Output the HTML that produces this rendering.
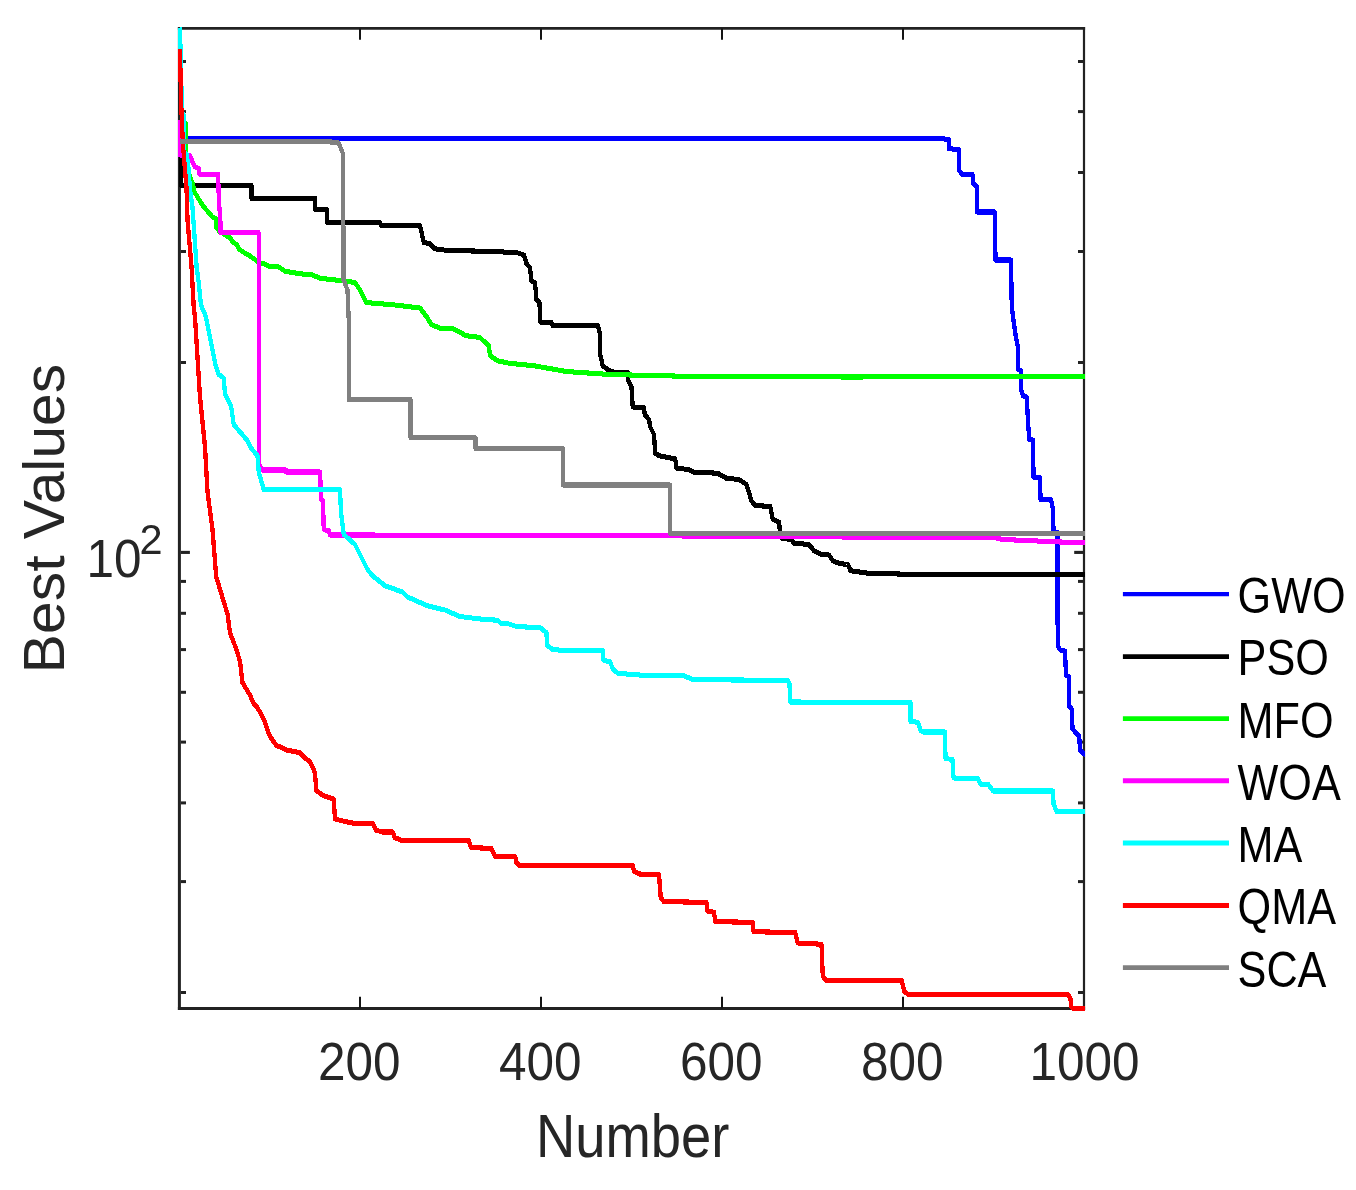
<!DOCTYPE html>
<html lang="en">
<head>
<meta charset="utf-8">
<title>Best Values vs Number</title>
<style>
html,body{margin:0;padding:0;background:#fff;}
body{width:1356px;height:1190px;overflow:hidden;}
svg{display:block;}
text{font-family:"Liberation Sans",sans-serif;}
</style>
</head>
<body>
<svg width="1356" height="1190" viewBox="0 0 1356 1190">
<rect x="0" y="0" width="1356" height="1190" fill="#ffffff"/>
<defs><clipPath id="plotclip"><rect x="177.9" y="27.0" width="907.2" height="984"/></clipPath></defs>

<g stroke="#222222" fill="none" shape-rendering="auto">
<line x1="177.9" y1="28.40" x2="1085.1" y2="28.40" stroke-width="2.8"/>
<line x1="177.9" y1="1008.50" x2="1085.1" y2="1008.50" stroke-width="2.8"/>
<line x1="179.40" y1="27" x2="179.40" y2="1009.9" stroke-width="3.0"/>
<line x1="1084.00" y1="27" x2="1084.00" y2="1009.9" stroke-width="2.2"/>
<line x1="360.0" y1="1008.5" x2="360.0" y2="996.8" stroke-width="2" stroke="#141414"/>
<line x1="360.0" y1="28.4" x2="360.0" y2="39.8" stroke-width="2" stroke="#141414"/>
<line x1="541.0" y1="1008.5" x2="541.0" y2="996.8" stroke-width="2" stroke="#141414"/>
<line x1="541.0" y1="28.4" x2="541.0" y2="39.8" stroke-width="2" stroke="#141414"/>
<line x1="722.0" y1="1008.5" x2="722.0" y2="996.8" stroke-width="2" stroke="#141414"/>
<line x1="722.0" y1="28.4" x2="722.0" y2="39.8" stroke-width="2" stroke="#141414"/>
<line x1="903.0" y1="1008.5" x2="903.0" y2="996.8" stroke-width="2" stroke="#141414"/>
<line x1="903.0" y1="28.4" x2="903.0" y2="39.8" stroke-width="2" stroke="#141414"/>
<line x1="180.9" y1="61.5" x2="186.0" y2="61.5" stroke-width="3.0"/>
<line x1="1083.0" y1="61.5" x2="1078.0" y2="61.5" stroke-width="3.0"/>
<line x1="180.9" y1="111.6" x2="186.0" y2="111.6" stroke-width="3.0"/>
<line x1="1083.0" y1="111.6" x2="1078.0" y2="111.6" stroke-width="3.0"/>
<line x1="180.9" y1="172.5" x2="186.0" y2="172.5" stroke-width="3.0"/>
<line x1="1083.0" y1="172.5" x2="1078.0" y2="172.5" stroke-width="3.0"/>
<line x1="180.9" y1="251.5" x2="186.0" y2="251.5" stroke-width="3.0"/>
<line x1="1083.0" y1="251.5" x2="1078.0" y2="251.5" stroke-width="3.0"/>
<line x1="180.9" y1="362.5" x2="186.0" y2="362.5" stroke-width="3.0"/>
<line x1="1083.0" y1="362.5" x2="1078.0" y2="362.5" stroke-width="3.0"/>
<line x1="180.9" y1="581.4" x2="186.0" y2="581.4" stroke-width="3.0"/>
<line x1="1083.0" y1="581.4" x2="1078.0" y2="581.4" stroke-width="3.0"/>
<line x1="180.9" y1="613.3" x2="186.0" y2="613.3" stroke-width="3.0"/>
<line x1="1083.0" y1="613.3" x2="1078.0" y2="613.3" stroke-width="3.0"/>
<line x1="180.9" y1="649.6" x2="186.0" y2="649.6" stroke-width="3.0"/>
<line x1="1083.0" y1="649.6" x2="1078.0" y2="649.6" stroke-width="3.0"/>
<line x1="180.9" y1="692.3" x2="186.0" y2="692.3" stroke-width="3.0"/>
<line x1="1083.0" y1="692.3" x2="1078.0" y2="692.3" stroke-width="3.0"/>
<line x1="180.9" y1="742.1" x2="186.0" y2="742.1" stroke-width="3.0"/>
<line x1="1083.0" y1="742.1" x2="1078.0" y2="742.1" stroke-width="3.0"/>
<line x1="180.9" y1="802.9" x2="186.0" y2="802.9" stroke-width="3.0"/>
<line x1="1083.0" y1="802.9" x2="1078.0" y2="802.9" stroke-width="3.0"/>
<line x1="180.9" y1="881.6" x2="186.0" y2="881.6" stroke-width="3.0"/>
<line x1="1083.0" y1="881.6" x2="1078.0" y2="881.6" stroke-width="3.0"/>
<line x1="180.9" y1="992.5" x2="186.0" y2="992.5" stroke-width="3.0"/>
<line x1="1083.0" y1="992.5" x2="1078.0" y2="992.5" stroke-width="3.0"/>
<line x1="180.9" y1="552.4" x2="189.9" y2="552.4" stroke-width="3.1"/>
<line x1="1083" y1="552.4" x2="1074.2" y2="552.4" stroke-width="3.1"/>
</g>
<g clip-path="url(#plotclip)"><g transform="scale(1,1.180)" fill="none" stroke-width="4.30" stroke-linejoin="round" stroke-linecap="butt" shape-rendering="crispEdges">
<polyline stroke="#0000ff" points="184.00,117.46 940.50,117.46 949.00,118.22 949.00,126.06 959.00,126.69 959.00,144.07 961.75,147.67 972.50,147.67 973.00,155.72 976.75,157.84 976.75,179.66 994.75,179.66 995.50,220.34 1011.00,220.34 1011.75,258.47 1013.00,268.64 1015.50,283.47 1018.00,294.07 1018.00,313.14 1021.00,314.19 1021.00,330.08 1023.00,335.38 1026.75,336.44 1028.00,357.63 1029.25,372.46 1033.00,372.88 1033.50,404.24 1040.00,404.66 1040.50,423.31 1051.00,423.31 1053.00,431.78 1053.50,450.85 1057.50,451.27 1057.50,520.34 1058.00,547.88 1060.50,551.06 1065.00,551.69 1066.00,572.25 1068.75,573.31 1069.25,598.73 1071.75,600.85 1072.50,617.80 1076.00,620.97 1079.25,624.15 1080.00,635.81 1084.25,638.98 1086.00,639.83"/>
<polyline stroke="#000000" points="180.80,118.64 181.00,157.12 251.50,157.12 251.50,168.22 315.10,168.22 315.10,177.63 326.90,177.63 326.90,188.39 380.00,188.39 381.00,191.10 420.00,191.10 423.75,205.51 430.00,206.57 435.00,210.81 447.50,212.29 497.50,213.14 509.00,213.98 516.50,213.98 524.00,216.10 526.50,223.52 530.00,226.69 531.50,238.35 535.00,239.41 536.50,254.24 539.50,256.36 540.25,272.88 551.50,273.31 552.75,276.06 597.75,276.06 600.25,283.47 600.25,300.42 602.75,309.96 607.75,313.14 612.75,315.25 627.75,315.68 627.75,321.61 631.50,327.97 632.75,344.92 644.00,345.34 644.75,351.27 649.00,355.51 650.25,361.86 654.00,368.22 655.25,384.11 659.00,386.23 675.25,388.98 676.50,396.82 689.00,397.88 692.75,400.00 717.75,401.06 726.50,405.30 739.00,406.36 746.50,410.59 751.50,424.36 755.25,428.60 770.25,429.03 772.75,440.25 779.00,442.37 780.25,452.97 781.50,456.14 791.50,457.20 794.00,460.38 809.00,461.44 814.00,466.74 820.25,469.49 829.00,470.34 832.75,475.21 839.00,477.33 846.50,478.39 848.00,478.39 850.50,483.69 868.00,485.81 918.00,486.86 1086.00,486.86"/>
<polyline stroke="#00ff00" points="180.00,50.85 181.50,84.75 182.50,100.00 185.80,105.08 185.80,128.81 186.80,139.83 190.00,150.00 193.00,155.93 194.50,162.71 197.50,166.95 200.00,170.34 203.00,174.58 206.50,177.97 210.00,181.36 213.00,184.32 216.20,185.17 216.20,192.37 219.00,195.76 226.00,199.58 230.00,201.69 233.00,205.08 237.00,207.63 239.50,211.44 244.00,213.98 250.00,216.95 255.00,219.92 259.00,222.88 265.00,223.73 269.00,225.85 277.50,225.64 285.00,229.87 300.00,231.99 312.50,233.05 320.00,235.81 340.00,237.71 355.00,239.41 360.00,245.76 366.00,256.36 395.00,258.47 420.00,261.02 427.50,269.49 431.25,275.00 440.00,278.18 453.75,278.81 466.25,284.53 480.00,286.02 488.75,293.01 490.00,301.48 497.50,305.72 509.00,307.84 534.00,309.96 566.50,314.83 609.00,317.37 684.00,318.86 848.00,319.49 1086.00,319.07"/>
<polyline stroke="#ff00ff" points="179.90,101.69 179.90,131.36 190.00,131.78 191.50,134.75 193.00,138.14 195.00,141.53 199.00,143.22 199.50,147.71 218.00,147.71 218.20,152.54 219.00,171.19 220.60,189.83 220.60,197.12 258.50,197.12 259.25,203.39 259.25,393.64 262.50,398.31 286.25,398.31 286.25,400.00 320.00,400.00 321.25,423.31 323.00,424.36 323.75,448.73 328.75,449.79 330.00,453.39 616.00,453.64 714.00,454.49 848.00,455.08 991.75,455.08 1003.00,457.20 1060.00,459.32 1086.00,459.96"/>
<polyline stroke="#00ffff" points="180.00,23.31 180.70,50.85 181.60,80.51 182.00,94.92 183.70,97.88 184.00,128.39 186.80,131.36 188.70,144.07 189.80,159.32 192.50,175.85 196.70,227.12 198.75,239.41 201.00,258.47 206.00,268.64 211.00,289.83 216.00,311.02 218.75,317.37 223.75,320.34 225.00,334.32 231.00,343.86 233.75,359.75 247.50,373.52 251.00,379.66 257.50,386.23 258.75,400.00 263.75,414.83 340.00,414.83 341.00,433.90 343.75,452.97 355.00,461.44 367.50,482.63 372.50,487.92 385.00,496.40 402.50,501.69 407.50,505.93 427.50,513.35 445.00,516.95 460.00,522.46 480.00,524.58 497.50,525.64 501.25,528.39 509.00,528.81 516.50,530.93 540.25,531.99 546.50,536.23 547.00,546.82 552.75,550.42 566.50,551.48 602.75,551.48 603.50,559.53 610.25,561.02 612.75,566.95 617.75,570.55 631.50,571.61 651.50,572.67 684.00,572.67 692.75,575.85 734.00,576.27 787.75,576.48 789.50,579.66 790.25,594.92 848.00,595.13 910.50,595.13 910.50,611.44 918.00,612.08 920.50,618.86 923.00,620.34 945.00,620.34 945.50,642.80 952.50,643.64 953.50,659.11 956.75,659.75 977.50,659.75 980.50,664.41 988.50,665.04 993.00,670.34 1053.00,670.34 1053.50,681.36 1056.75,687.71 1086.00,687.71"/>
<polyline stroke="#ff0000" points="180.00,41.53 181.00,84.75 182.90,122.03 186.50,159.32 187.50,186.44 191.60,227.12 193.75,260.59 195.00,268.64 200.00,336.44 205.00,378.81 207.50,416.95 212.50,448.73 216.25,488.98 227.50,520.34 230.00,536.23 236.25,550.00 240.00,560.59 242.50,578.60 250.00,589.19 253.75,596.61 257.50,599.79 263.75,609.32 267.50,618.86 270.00,624.15 276.25,631.57 287.50,635.81 300.00,637.92 306.25,643.22 310.00,645.34 315.00,654.87 316.25,669.70 322.50,673.94 333.75,677.12 335.00,694.07 345.00,696.19 355.00,697.88 372.50,697.88 376.25,703.60 382.50,705.08 392.50,705.08 395.00,709.96 401.25,712.08 468.75,712.08 471.25,718.43 491.25,718.86 495.00,725.85 509.00,725.85 515.25,726.27 516.50,731.14 519.00,733.26 632.75,733.26 634.00,738.56 639.00,740.68 659.00,741.10 660.75,760.81 664.00,764.19 706.50,764.62 707.25,772.03 714.00,773.09 715.25,781.14 752.75,781.57 753.50,789.62 795.25,790.25 797.75,799.15 821.50,800.21 822.75,826.69 825.25,830.51 848.00,830.93 901.75,830.93 904.25,840.47 908.00,842.58 1068.00,842.58 1070.50,846.82 1071.25,853.18 1073.00,854.66 1086.00,854.66"/>
<polyline stroke="#808080" points="180.10,119.92 330.50,119.92 331.50,120.85 338.50,121.02 340.30,124.58 342.90,130.08 342.90,189.83 343.60,192.37 343.60,237.29 347.50,245.76 348.75,271.19 348.75,338.56 410.50,338.56 410.50,370.97 475.50,370.97 475.50,380.30 563.25,380.30 563.25,411.02 670.25,411.02 670.25,452.46 1086.00,452.46"/>
</g></g>
<g fill="none" stroke-width="4.9">
<line x1="1122.9" y1="594.10" x2="1229" y2="594.10" stroke="#0000ff" stroke-width="4.2"/>
<line x1="1122.9" y1="656.60" x2="1229" y2="656.60" stroke="#000000"/>
<line x1="1122.9" y1="718.60" x2="1229" y2="718.60" stroke="#00ff00"/>
<line x1="1122.9" y1="780.80" x2="1229" y2="780.80" stroke="#ff00ff"/>
<line x1="1122.9" y1="843.00" x2="1229" y2="843.00" stroke="#00ffff"/>
<line x1="1122.9" y1="905.50" x2="1229" y2="905.50" stroke="#ff0000"/>
<line x1="1122.9" y1="967.60" x2="1229" y2="967.60" stroke="#808080"/>
</g>
<g>
<text transform="translate(1237.60,613.20) scale(1,1.175)" font-size="43.20" fill="#000000" text-anchor="start">GWO</text>
<text transform="translate(1237.60,675.45) scale(1,1.175)" font-size="43.20" fill="#000000" text-anchor="start">PSO</text>
<text transform="translate(1237.60,737.70) scale(1,1.175)" font-size="43.20" fill="#000000" text-anchor="start">MFO</text>
<text transform="translate(1237.60,799.95) scale(1,1.175)" font-size="43.20" fill="#000000" text-anchor="start">WOA</text>
<text transform="translate(1237.60,862.20) scale(1,1.175)" font-size="43.20" fill="#000000" text-anchor="start">MA</text>
<text transform="translate(1237.60,924.45) scale(1,1.175)" font-size="43.20" fill="#000000" text-anchor="start">QMA</text>
<text transform="translate(1237.60,986.70) scale(1,1.175)" font-size="43.20" fill="#000000" text-anchor="start">SCA</text>
</g>
<g>
<text transform="translate(359.30,1080.30) scale(1,1.080)" font-size="49.50" fill="#262626" text-anchor="middle">200</text>
<text transform="translate(540.30,1080.30) scale(1,1.080)" font-size="49.50" fill="#262626" text-anchor="middle">400</text>
<text transform="translate(721.30,1080.30) scale(1,1.080)" font-size="49.50" fill="#262626" text-anchor="middle">600</text>
<text transform="translate(902.30,1080.30) scale(1,1.080)" font-size="49.50" fill="#262626" text-anchor="middle">800</text>
<text transform="translate(1084.60,1080.30) scale(1,1.080)" font-size="49.50" fill="#262626" text-anchor="middle">1000</text>
</g>
<text transform="translate(86.60,577.40) scale(1,1.075)" font-size="49.50" fill="#262626" text-anchor="start">10</text>
<text transform="translate(139.60,553.80) scale(1,1.040)" font-size="41.50" fill="#262626" text-anchor="start">2</text>
<text transform="translate(632.60,1156.90) scale(1,1.121)" font-size="54.40" fill="#262626" text-anchor="middle">Number</text>
<text transform="translate(63.5,518.5) rotate(-90) scale(1.073,1.042)" font-size="54.8" fill="#262626" text-anchor="middle">Best Values</text>
</svg>
</body>
</html>
